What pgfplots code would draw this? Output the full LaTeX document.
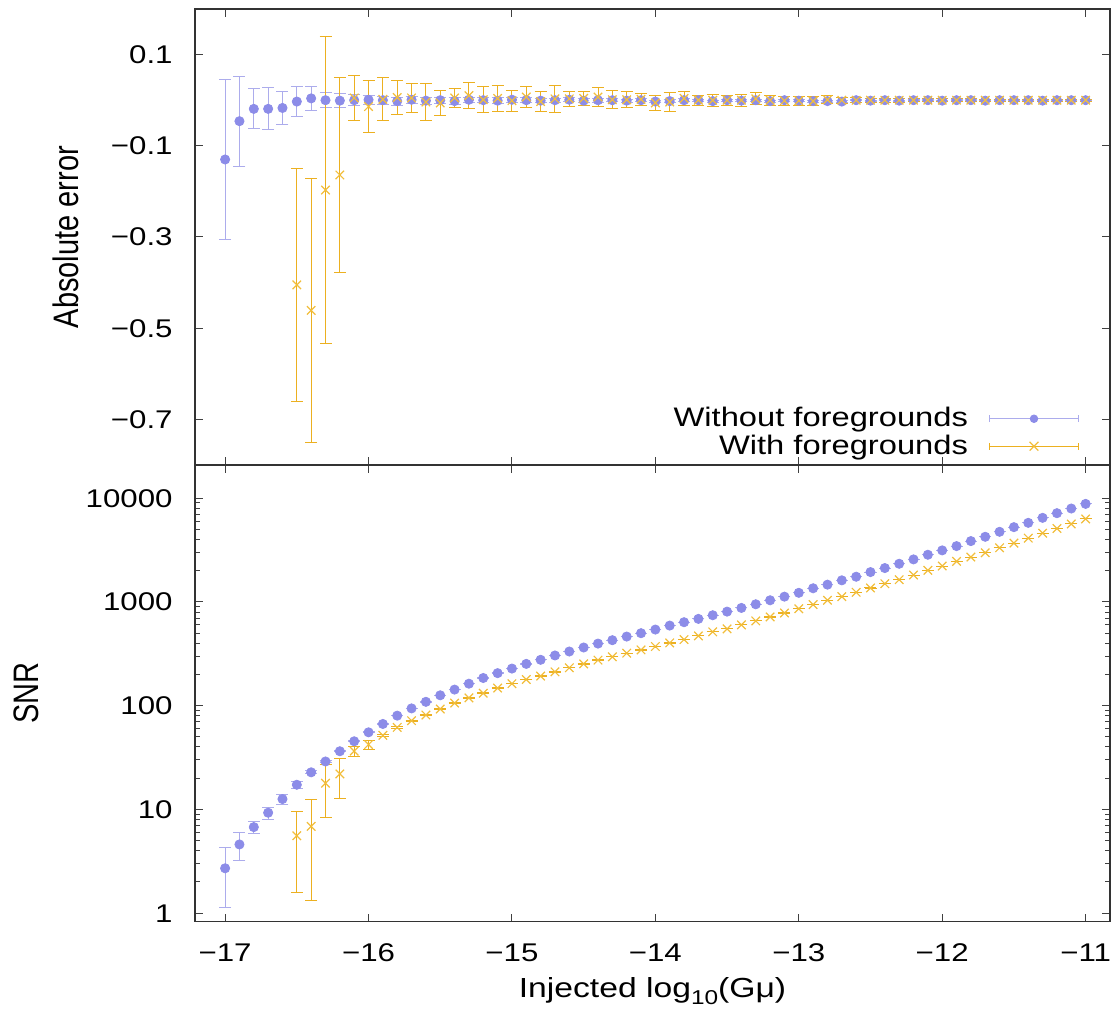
\documentclass[border=0pt]{standalone}
\usepackage{fontspec}
\setmainfont{Liberation Sans}[FakeStretch=1.22]
\newfontfamily\rotfont{Liberation Sans}[FakeStretch=0.82]
\usepackage{pgfplots}
\pgfplotsset{compat=1.18}
\usepackage{pgfplotstable}

\definecolor{bmark}{RGB}{140,140,232}
\definecolor{bbar}{RGB}{172,172,236}
\definecolor{omark}{RGB}{242,190,60}
\definecolor{obar}{RGB}{236,176,32}

\pgfplotstableread{
x y e
-17.0 -0.130 0.175
-16.9 -0.046 0.099
-16.8 -0.019 0.044
-16.7 -0.019 0.046
-16.6 -0.017 0.037
-16.5 -0.003 0.032
-16.4 0.004 0.027
-16.3 0.000 0.016
-16.2 -0.001 0.015
-16.1 0.000 0.012
-16.0 0.001 0.010
-15.9 0.000 0.009
-15.8 -0.002 0.009
-15.7 0.001 0.008
-15.6 -0.001 0.008
-15.5 0.000 0.007
-15.4 -0.002 0.007
-15.3 0.001 0.006
-15.2 0.000 0.006
-15.1 -0.001 0.006
-15.0 0.001 0.005
-14.9 0.000 0.005
-14.8 -0.001 0.005
-14.7 0.000 0.004
-14.6 0.001 0.004
-14.5 -0.001 0.004
-14.4 0.000 0.004
-14.3 0.000 0.003
-14.2 -0.001 0.003
-14.1 0.000 0.003
-14.0 -0.003 0.003
-13.9 -0.002 0.003
-13.8 0.000 0.003
-13.7 0.000 0.002
-13.6 -0.002 0.002
-13.5 0.000 0.002
-13.4 -0.001 0.002
-13.3 0.000 0.002
-13.2 -0.002 0.002
-13.1 0.000 0.002
-13.0 -0.001 0.002
-12.9 -0.002 0.002
-12.8 -0.002 0.002
-12.7 -0.003 0.002
-12.6 0.000 0.001
-12.5 -0.001 0.001
-12.4 0.000 0.001
-12.3 -0.001 0.001
-12.2 0.000 0.001
-12.1 0.000 0.001
-12.0 -0.001 0.001
-11.9 0.000 0.001
-11.8 0.000 0.001
-11.7 -0.001 0.001
-11.6 0.000 0.001
-11.5 0.000 0.001
-11.4 0.000 0.001
-11.3 -0.001 0.001
-11.2 0.000 0.001
-11.1 0.000 0.001
-11.0 0.000 0.001
}\topblue

\pgfplotstableread{
x y e
-16.5 -0.405 0.255
-16.4 -0.461 0.290
-16.3 -0.197 0.336
-16.2 -0.164 0.214
-16.1 0.005 0.050
-16.0 -0.014 0.057
-15.9 0.002 0.047
-15.8 0.006 0.038
-15.7 0.005 0.031
-15.6 -0.004 0.040
-15.5 -0.006 0.028
-15.4 0.005 0.020
-15.3 0.010 0.028
-15.2 0.001 0.028
-15.1 0.004 0.028
-15.0 -0.001 0.023
-14.9 0.007 0.022
-14.8 -0.003 0.021
-14.7 0.003 0.030
-14.6 0.003 0.016
-14.5 0.004 0.016
-14.4 0.007 0.020
-14.3 0.001 0.020
-14.2 0.001 0.018
-14.1 0.002 0.013
-14.0 -0.006 0.017
-13.9 -0.004 0.020
-13.8 0.004 0.016
-13.7 0.000 0.011
-13.6 0.000 0.013
-13.5 0.000 0.011
-13.4 0.000 0.013
-13.3 0.003 0.013
-13.2 0.000 0.011
-13.1 -0.001 0.010
-13.0 -0.001 0.010
-12.9 -0.002 0.010
-12.8 0.001 0.009
-12.7 0.000 0.007
-12.6 0.000 0.005
-12.5 0.000 0.004
-12.4 0.000 0.004
-12.3 0.000 0.004
-12.2 0.000 0.003
-12.1 0.000 0.003
-12.0 0.000 0.003
-11.9 0.000 0.003
-11.8 0.000 0.003
-11.7 0.000 0.002
-11.6 0.000 0.002
-11.5 0.000 0.002
-11.4 0.000 0.002
-11.3 0.000 0.002
-11.2 0.000 0.002
-11.1 0.000 0.002
-11.0 0.000 0.002
}\toporange

\pgfplotstableread{
x y e
-17.0 2.71 1.57
-16.9 4.60 1.40
-16.8 6.76 0.94
-16.7 9.30 1.25
-16.6 12.6 1.40
-16.5 17.3 1.30
-16.4 22.8 0.70
-16.3 29.0 0.50
-16.2 36.4 0.50
-16.1 45.4 0.50
-16.0 55.4 0.50
-15.9 66.7 0.50
-15.8 80.2 0.60
-15.7 94.2 0.60
-15.6 109 0.7
-15.5 126 0.8
-15.4 143 0.8
-15.3 163 0.9
-15.2 185 1.0
-15.1 206 1.0
-15.0 228 1.0
-14.9 253 1.0
-14.8 277 1.0
-14.7 305 1.0
-14.6 333 1.0
-14.5 364 1.0
-14.4 397 1.0
-14.3 428 1.0
-14.2 464 1.0
-14.1 500 1.0
-14.0 542 1.0
-13.9 592 1.0
-13.8 638 1.0
-13.7 687 1.0
-13.6 745 1.0
-13.5 807 1.0
-13.4 876 1.0
-13.3 950 1.0
-13.2 1038 1.0
-13.1 1125 1.0
-13.0 1225 1.0
-12.9 1355 1.0
-12.8 1468 1.0
-12.7 1616 1.0
-12.6 1751 1.0
-12.5 1941 1.0
-12.4 2122 1.0
-12.3 2334 1.0
-12.2 2572 1.0
-12.1 2851 1.0
-12.0 3141 1.0
-11.9 3455 1.0
-11.8 3861 1.0
-11.7 4248 1.0
-11.6 4745 1.0
-11.5 5261 1.0
-11.4 5791 1.0
-11.3 6468 1.0
-11.2 7174 1.0
-11.1 7955 1.0
-11.0 8818 1.0
}\botblue

\pgfplotstableread{
x y e
-16.5 5.58 3.98
-16.4 6.87 5.55
-16.3 17.9 9.45
-16.2 22.0 9.20
-16.1 36.5 4.20
-16.0 42.2 4.10
-15.9 51.8 1.0
-15.8 61.8 1.0
-15.7 71.7 1.0
-15.6 81.3 1.0
-15.5 92.9 1.0
-15.4 106 1.0
-15.3 119 1.0
-15.2 132 1.0
-15.1 148 1.0
-15.0 163 1.0
-14.9 179 1.0
-14.8 193 1.0
-14.7 212 1.0
-14.6 232 1.0
-14.5 253 1.0
-14.4 275 1.0
-14.3 296 1.0
-14.2 321 1.0
-14.1 345 1.0
-14.0 372 1.0
-13.9 403 1.0
-13.8 434 1.0
-13.7 471 1.0
-13.6 515 1.0
-13.5 550 1.0
-13.4 601 1.0
-13.3 657 1.0
-13.2 717 1.0
-13.1 783 1.0
-13.0 860 1.0
-12.9 943 1.0
-12.8 1038 1.0
-12.7 1125 1.0
-12.6 1239 1.0
-12.5 1364 1.0
-12.4 1500 1.0
-12.3 1640 1.0
-12.2 1818 1.0
-12.1 2017 1.0
-12.0 2219 1.0
-11.9 2461 1.0
-11.8 2709 1.0
-11.7 2979 1.0
-11.6 3327 1.0
-11.5 3690 1.0
-11.4 4121 1.0
-11.3 4603 1.0
-11.2 5101 1.0
-11.1 5645 1.0
-11.0 6310 1.0
}\botorange

\pgfplotsset{
  common/.style={
    scale only axis, width=457.5pt,
    xmin=-17.21, xmax=-10.83,
    xtick={-17,-16,-15,-14,-13,-12,-11},
    tick align=inside, xtick pos=both, ytick pos=both,
    major tick length=4pt, minor tick length=2.5pt,
    axis line style={line width=0.7pt, black!80},
    every tick/.style={black!75, line width=0.5pt},
    tick label style={font=\fontsize{12.8}{14}\selectfont},
    yticklabel style={inner sep=0pt, anchor=east, xshift=-11pt},
    xticklabel style={inner sep=0pt, anchor=north, yshift=-10.9pt},
  },
  bstyle/.style={only marks, mark=*, mark size=2.3pt, color=bmark,
    error bars/.cd, y dir=both, y explicit,
    error bar style={color=bbar, line width=0.5pt},
    error mark options={rotate=90, color=bbar, mark size=3pt, line width=0.5pt}},
  ostyle/.style={only marks, mark=x, mark size=3pt, color=omark, mark options={line width=0.6pt},
    error bars/.cd, y dir=both, y explicit,
    error bar style={color=obar, line width=0.5pt},
    error mark options={rotate=90, color=obar, mark size=3pt, line width=0.5pt}},
}

\begin{document}
\begin{tikzpicture}
\begin{axis}[common, at={(0pt,0pt)}, anchor=south west, height=228pt,
  ymin=-0.8, ymax=0.2,
  ytick={-0.7,-0.5,-0.3,-0.1,0.1},
  yticklabels={−0.7,−0.5,−0.3,−0.1,0.1},
  xticklabels={},
  ylabel={\rotfont\fontsize{17.7}{18}\selectfont Absolute error},
  ylabel style={at={(axis description cs:-0.1412,0.5)}, anchor=center},
  legend style={draw=none, fill=none, at={(axis description cs:0.966,0.007)}, anchor=south east,
    legend cell align=right, legend plot pos=right, font=\fontsize{13.4}{14}\selectfont,
    row sep=-1.5pt, inner sep=0pt},
]
\addplot[forget plot, bstyle] table[x=x, y=y, y error=e] {\topblue};
\addplot[forget plot, ostyle] table[x=x, y=y, y error=e] {\toporange};
\addlegendimage{legend image code/.code={
  \path[draw=none, fill=none] (0pt,0pt) -- (9pt,0pt);
  \draw[bbar, line width=0.5pt] (9pt,0pt) -- (53pt,0pt);
  \draw[bbar, line width=0.5pt] (9pt,-1.7pt) -- (9pt,1.7pt) (53pt,-1.7pt) -- (53pt,1.7pt);
  \fill[bmark] (31pt,0pt) circle (1.9pt);}}
\addlegendentry{Without foregrounds}
\addlegendimage{legend image code/.code={
  \path[draw=none, fill=none] (0pt,0pt) -- (9pt,0pt);
  \draw[obar, line width=0.5pt] (9pt,0pt) -- (53pt,0pt);
  \draw[obar, line width=0.5pt] (9pt,-1.7pt) -- (9pt,1.7pt) (53pt,-1.7pt) -- (53pt,1.7pt);
  \draw[omark, line width=0.6pt] (28.8pt,-2.2pt) -- (33.2pt,2.2pt) (28.8pt,2.2pt) -- (33.2pt,-2.2pt);}}
\addlegendentry{With foregrounds}
\end{axis}
\begin{axis}[common, at={(0pt,0pt)}, anchor=north west, height=228.3pt,
  ymode=log, ymin=0.83, ymax=20900,
  ytick={1,10,100,1000,10000},
  yticklabels={1,10,100,1000,10000},
  minor ytick={2,3,4,5,6,7,8,9,20,30,40,50,60,70,80,90,200,300,400,500,600,700,800,900,2000,3000,4000,5000,6000,7000,8000,9000},
  xticklabels={−17,−16,−15,−14,−13,−12,−11},
  ylabel={\rotfont\fontsize{17.7}{18}\selectfont SNR},
  ylabel style={at={(axis description cs:-0.184,0.5)}, anchor=center},
  xlabel={\fontsize{13.8}{15}\selectfont Injected log\raisebox{-0.45ex}{\fontsize{10}{10}\selectfont 10}(Gμ)},
  xlabel style={at={(axis description cs:0.5,-0.152)}, anchor=center},
]
\addplot[bstyle] table[x=x, y=y, y error=e] {\botblue};
\addplot[ostyle] table[x=x, y=y, y error=e] {\botorange};
\end{axis}
\path (-97.5pt,-275.5pt) rectangle (459.5pt,232.5pt);
\end{tikzpicture}
\end{document}
